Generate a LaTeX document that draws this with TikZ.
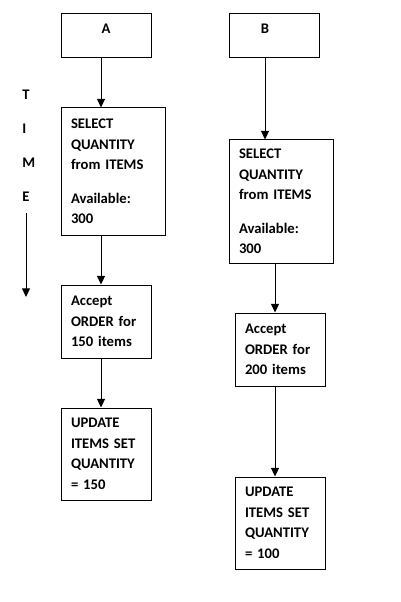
\documentclass[tikz,border=0pt]{standalone}
\usepackage{fontspec}
\setmainfont{Carlito}
\usetikzlibrary{arrows.meta}
\tikzset{
  stepbox/.style={draw, line width=0.75pt, align=left, inner xsep=7.5pt, inner ysep=0pt,
    font=\bfseries\fontsize{11}{15.4}\selectfont},
  narrowbox/.style={stepbox, text width=52.5pt, minimum height=#1},
  widebox/.style={stepbox, text width=63pt, minimum height=#1},
  topbox/.style={narrowbox=33pt, align=center},
  timeletter/.style={anchor=west, inner sep=0pt, font=\bfseries\fontsize{11}{13}\selectfont},
  arr/.style={-{Triangle[width=6pt,length=6.5pt]}, line width=0.75pt},
}
\begin{document}
\begin{tikzpicture}[x=0.75pt, y=-0.75pt]
    \useasboundingbox (0,0) rectangle (400,602);

    % Time axis
    \foreach \l/\y [count=\i] in {T/95, I/129, M/163, E/197}
        \node[timeletter] (t\i) at (22,\y) {\l};
    \coordinate (tstart) at (26,213);
    \coordinate (tend) at (26,297);
    \draw[arr] (tstart) -- (tend);

    % Transaction A
    \node[topbox] (boxA) at (106,36) {A\\[-4pt]\mbox{}};
    \node[widebox=95.25pt] (selA) at (113,171.5) {SELECT\\QUANTITY\\from ITEMS\\[10pt]Available:\\300};
    \node[narrowbox=54.75pt] (accA) at (106,321.5) {Accept\\ORDER for\\150 items};
    \node[narrowbox=69pt] (updA) at (106,454) {UPDATE\\ITEMS SET\\QUANTITY\\= 150};

    \draw[arr] ([xshift=-3.75pt]boxA.south) -- ([xshift=-3.75pt]boxA.south |- selA.north);
    \draw[arr] ([xshift=-9pt]selA.south) -- ([xshift=-9pt]selA.south |- accA.north);
    \draw[arr] ([xshift=-3.75pt]accA.south) -- ([xshift=-3.75pt]accA.south |- updA.north);

    % Transaction B
    \node[topbox] (boxB) at (274,36) {B\kern13.5pt\\[-4pt]\mbox{}};
    \node[widebox=92.25pt] (selB) at (281,201.5) {SELECT\\QUANTITY\\from ITEMS\\[10pt]Available:\\300};
    \node[narrowbox=54.75pt] (accB) at (280,349.5) {Accept\\ORDER for\\200 items};
    \node[narrowbox=69pt] (updB) at (280,523) {UPDATE\\ITEMS SET\\QUANTITY\\= 100};

    \draw[arr] ([xshift=-6.75pt]boxB.south) -- ([xshift=-6.75pt]boxB.south |- selB.north);
    \draw[arr] ([xshift=-4.5pt]selB.south) -- ([xshift=-4.5pt]selB.south |- accB.north);
    \draw[arr] ([xshift=-3.75pt]accB.south) -- ([xshift=-3.75pt]accB.south |- updB.north);
\end{tikzpicture}
\end{document}
